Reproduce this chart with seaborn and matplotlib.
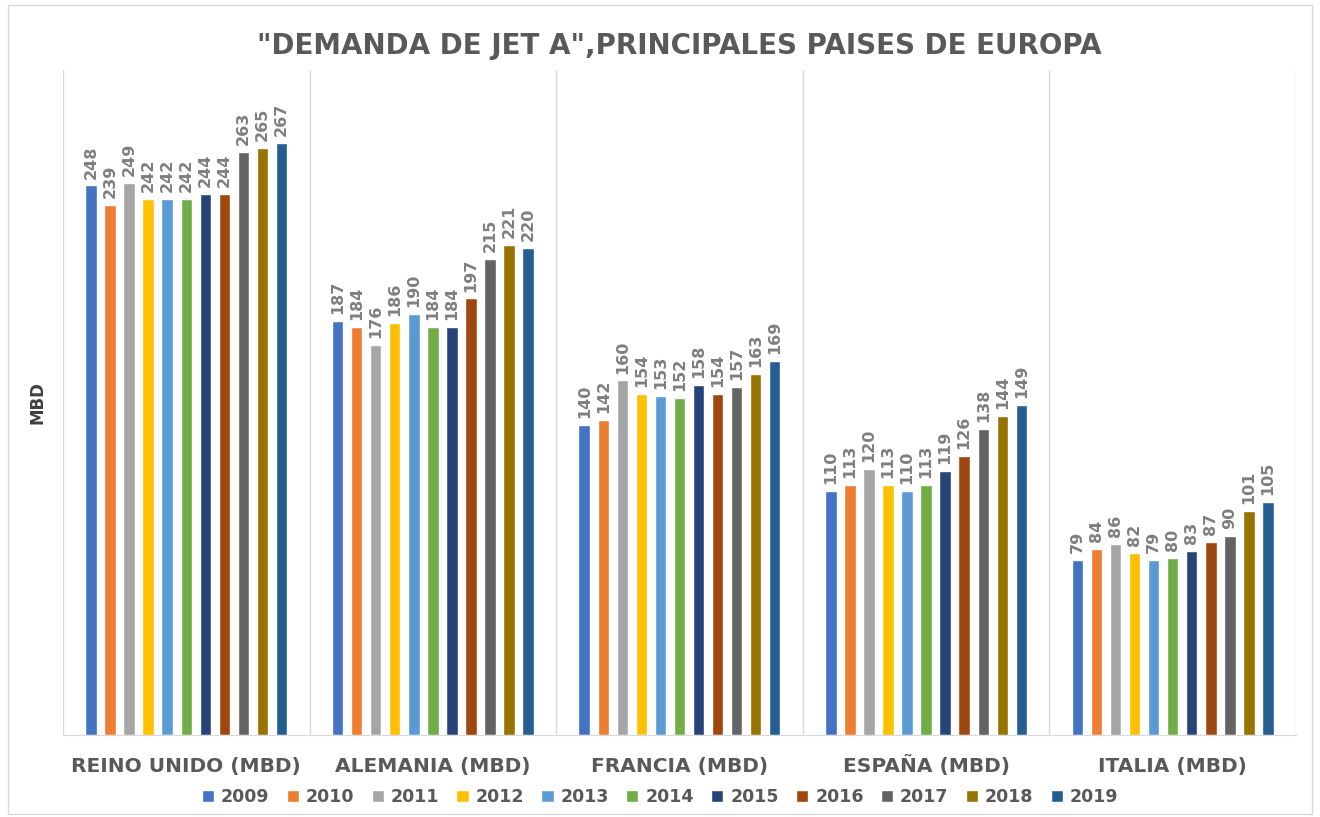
import pandas as pd
import matplotlib.pyplot as plt
import seaborn as sns

# values
paises = ['REINO UNIDO (MBD)', 'ALEMANIA (MBD)', 'FRANCIA (MBD)', 'ESPAÑA (MBD)', 'ITALIA (MBD)']
anios = ['2009', '2010', '2011', '2012', '2013', '2014', '2015', '2016', '2017', '2018', '2019']
reino_unido = [248, 239, 249, 242, 242, 242, 244, 244, 263, 265, 267]
alemania = [187, 184, 176, 186, 190, 184, 184, 197, 215, 221, 220]
francia = [140, 142, 160, 154, 153, 152, 158, 154, 157, 163, 169]
espana = [110, 113, 120, 113, 110, 113, 119, 126, 138, 144, 149]
italia = [79, 84, 86, 82, 79, 80, 83, 87, 90, 101, 105]

colores = ['#4472C4', '#ED7D31', '#A5A5A5', '#FFC000', '#5B9BD5', '#70AD47',
           '#264478', '#9E480E', '#636363', '#997300', '#255E91']

rows = []
for pais, vals in zip(paises, [reino_unido, alemania, francia, espana, italia]):
    for anio, v in zip(anios, vals):
        rows.append({'pais': pais, 'anio': anio, 'valor': v})
df = pd.DataFrame(rows)

sns.set_style('white')
plt.rcParams['font.family'] = ['DejaVu Sans']

fig = plt.figure(figsize=(13.2, 8.17), dpi=100)
ax = fig.add_axes([0.0477, 0.1004, 0.9341, 0.8136])

sns.barplot(data=df, x='pais', y='valor', hue='anio', order=paises, hue_order=anios,
            palette=colores, saturation=1, width=0.85, gap=0.4, ax=ax, legend=True)

for cont in ax.containers:
    ax.bar_label(cont, rotation=90, padding=5, fontsize=11.5, color='#7F7F7F',
                 fontweight='bold')

ax.set_ylim(0, 300)
ax.set_xlim(-0.5, len(paises) - 0.5)
ax.set_yticks([])
ax.set_xlabel('')
ax.set_ylabel('MBD', fontsize=12, fontweight='bold', color='#404040', labelpad=12)

# vertical separators between categories
for i in range(len(paises) + 1):
    ax.axvline(i - 0.5, color='#D9D9D9', lw=1, zorder=0)

for s in ['top', 'right', 'left']:
    ax.spines[s].set_visible(False)
ax.spines['bottom'].set_color('#D9D9D9')

# baseline-aligned so the Ñ doesn't push ESPAÑA down
ax.tick_params(axis='x', length=0, pad=27)
for lbl in ax.get_xticklabels():
    lbl.set_fontsize(14.5)
    lbl.set_fontweight('bold')
    lbl.set_color('#595959')
    lbl.set_verticalalignment('baseline')

ax.set_title('"DEMANDA DE JET A",PRINCIPALES PAISES DE EUROPA', fontsize=20,
             fontweight='bold', color='#595959', pad=12)

handles, labels = ax.get_legend_handles_labels()
ax.legend_.remove()
fig.legend(handles, labels, loc='center', bbox_to_anchor=(0.5, 0.024), ncol=11,
           frameon=False, handlelength=0.7, handleheight=0.7, handletextpad=0.4,
           columnspacing=1.0, prop={'size': 12.5, 'weight': 'bold'}, labelcolor='#595959')

# outer chart border
fig.patches.append(plt.Rectangle((0.006, 0.004), 0.988, 0.99, transform=fig.transFigure,
                                 fill=False, edgecolor='#D9D9D9', lw=1))

fig.savefig('out.png', dpi=100)
